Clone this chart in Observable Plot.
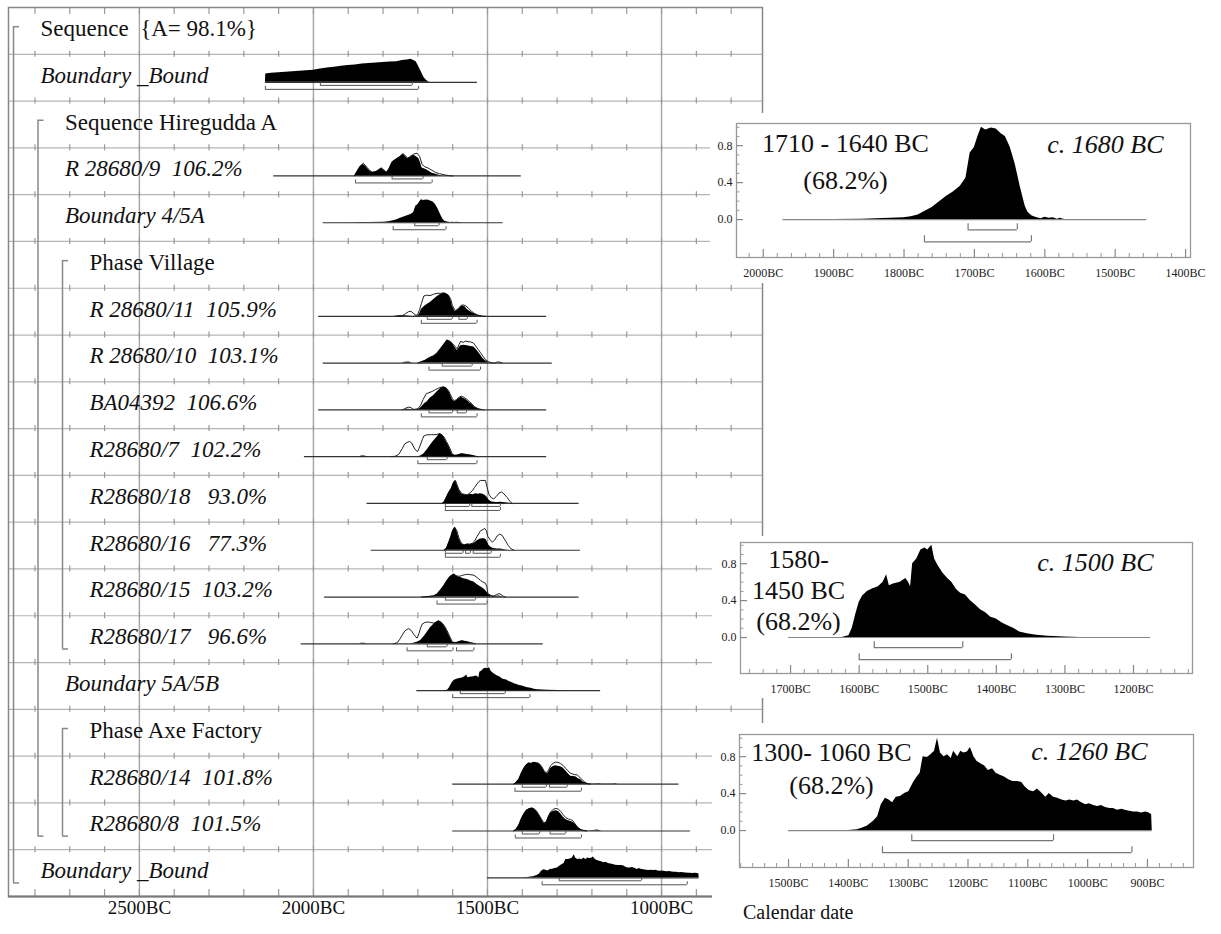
<!DOCTYPE html>
<html><head><meta charset="utf-8">
<script src="https://cdn.jsdelivr.net/npm/d3@7"></script>
<script src="https://cdn.jsdelivr.net/npm/@observablehq/plot@0.6"></script>
<style>
body{margin:0;background:#fff;}
#wrap{position:relative;width:1221px;height:934px;overflow:hidden;background:#fff;font-family:"Liberation Serif","Times New Roman",serif;}
.panel{position:absolute;background:#fff;}
svg text{white-space:pre;}
#caption{position:absolute;left:743px;top:899px;font-size:20px;line-height:26px;color:#111;}
</style></head><body><div id="wrap"></div>
<script>
// ---------- row structure ----------
const rowLabels = ["Sequence  {A= 98.1%}", "Boundary _Bound", "Sequence Hiregudda A", "R 28680/9  106.2%", "Boundary 4/5A", "Phase Village",
  "R 28680/11  105.9%", "R 28680/10  103.1%", "BA04392  106.6%", "R28680/7  102.2%", "R28680/18   93.0%", "R28680/16   77.3%",
  "R28680/15  103.2%", "R28680/17   96.6%", "Boundary 5A/5B", "Phase Axe Factory", "R28680/14  101.8%", "R28680/8  101.5%", "Boundary _Bound"];
const rowLevels = [0,0,1,1,1,2,2,2,2,2,2,2,2,2,1,2,2,2,0];
const rowItalic = [0,1,0,1,1,0,1,1,1,1,1,1,1,1,1,0,1,1,1];
const groupStart = [0, 2, 5, 15];
const groupEnd   = [18, 17, 13, 17];
const groupLevel = [0, 1, 2, 2];
const axisYears = [2500, 2000, 1500, 1000];

// ---------- distributions (year BC, relative probability) ----------
const bTop = [[2138,0],[2137,0.36],[2120,0.4],[2100,0.42],[2080,0.44],[2060,0.46],[2040,0.48],[2020,0.5],[2000,0.53],[1980,0.58],[1960,0.62],[1940,0.66],[1920,0.7],[1900,0.73],[1880,0.76],[1860,0.8],[1840,0.82],[1820,0.84],[1800,0.86],[1780,0.88],[1760,0.9],[1745,0.95],[1730,0.97],[1720,1.0],[1712,0.95],[1705,0.9],[1698,0.7],[1690,0.45],[1682,0.2],[1675,0.08],[1668,0.02],[1664,0]];
const bTopLine = [2138, 1529], bTop68 = [[1980,1716]], bTop95 = [[2138,1698]];

const r9Post = [[1882,0],[1874,0.2],[1866,0.4],[1857,0.5],[1850,0.42],[1846,0.35],[1838,0.22],[1831,0.15],[1824,0.17],[1817,0.2],[1810,0.28],[1805,0.33],[1798,0.25],[1790,0.15],[1783,0.3],[1774,0.6],[1767,0.68],[1760,0.75],[1752,0.82],[1742,0.95],[1736,0.85],[1729,0.75],[1722,0.8],[1712,0.9],[1705,0.85],[1697,0.75],[1692,0.55],[1688,0.35],[1680,0.3],[1673,0.25],[1666,0.18],[1659,0.12],[1651,0.08],[1644,0.05],[1636,0.02],[1630,0]];
const r9Prior = [[1882,0],[1874,0.22],[1866,0.42],[1857,0.55],[1850,0.45],[1846,0.37],[1838,0.24],[1831,0.16],[1824,0.18],[1817,0.22],[1810,0.3],[1805,0.35],[1798,0.27],[1790,0.16],[1783,0.3],[1774,0.6],[1767,0.68],[1760,0.77],[1752,0.84],[1742,0.97],[1736,0.87],[1729,0.78],[1722,0.85],[1712,0.95],[1702,0.99],[1695,0.85],[1688,0.5],[1680,0.4],[1669,0.33],[1660,0.25],[1649,0.15],[1638,0.1],[1625,0.05],[1610,0.01],[1600,0]];
const r9Line = [2114, 1403], r9_68 = [[1774,1685]], r9_95 = [[1879,1659]];

const b45 = [[1972,0],[1900,0],[1860,0.005],[1840,0.01],[1800,0.02],[1790,0.03],[1780,0.05],[1770,0.09],[1760,0.13],[1750,0.19],[1740,0.25],[1730,0.3],[1720,0.36],[1712,0.45],[1706,0.72],[1700,0.78],[1695,0.9],[1690,1.0],[1684,0.97],[1676,0.99],[1669,0.98],[1662,0.93],[1656,0.9],[1649,0.78],[1642,0.6],[1635,0.36],[1628,0.15],[1624,0.08],[1618,0.04],[1611,0.02],[1605,0.01],[1600,0.025],[1594,0.015],[1588,0.02],[1582,0.005],[1578,0.015],[1572,0],[1455,0]];
const b45Line = [1972, 1455], b45_68 = [[1709,1639]], b45_95 = [[1771,1619]];

const r11Post = [[1770,0],[1760,0.02],[1745,0.03],[1730,0.02],[1715,0],[1700,0.02],[1695,0.1],[1690,0.3],[1680,0.45],[1670,0.55],[1664,0.6],[1655,0.72],[1645,0.85],[1635,0.95],[1625,1.0],[1618,0.97],[1611,0.9],[1605,0.7],[1601,0.45],[1596,0.3],[1592,0.2],[1587,0.25],[1582,0.32],[1576,0.42],[1570,0.45],[1564,0.4],[1558,0.3],[1551,0.22],[1544,0.15],[1537,0.1],[1530,0.05],[1520,0.01],[1510,0]];
const r11Prior = [[1760,0],[1745,0.02],[1735,0.12],[1727,0.2],[1720,0.22],[1712,0.12],[1705,0.04],[1700,0.1],[1695,0.3],[1690,0.55],[1683,0.88],[1675,0.92],[1665,0.9],[1655,0.96],[1645,1.0],[1635,1.0],[1625,1.02],[1618,0.98],[1611,0.9],[1605,0.72],[1601,0.47],[1596,0.33],[1592,0.25],[1587,0.3],[1582,0.38],[1576,0.47],[1570,0.5],[1562,0.45],[1555,0.35],[1546,0.22],[1537,0.12],[1528,0.06],[1515,0.01],[1505,0]];
const r11Line = [1985, 1330], r11_68 = [[1673,1601],[1582,1558]], r11_95 = [[1690,1530]];

const r10Post = [[1745,0],[1738,0.04],[1725,0.05],[1716,0],[1700,0],[1692,0.04],[1680,0.1],[1668,0.2],[1656,0.28],[1645,0.4],[1635,0.6],[1625,0.8],[1616,1.0],[1608,0.95],[1601,0.85],[1594,0.7],[1587,0.55],[1582,0.65],[1577,0.75],[1568,0.78],[1558,0.75],[1548,0.72],[1539,0.7],[1530,0.55],[1520,0.35],[1513,0.2],[1506,0.1],[1496,0.02],[1490,0]];
const r10Prior = [[1700,0],[1692,0.05],[1680,0.12],[1668,0.24],[1656,0.32],[1645,0.45],[1635,0.64],[1625,0.84],[1616,1.0],[1608,0.95],[1601,0.86],[1594,0.74],[1587,0.62],[1582,0.8],[1577,0.95],[1570,0.9],[1563,0.96],[1556,0.93],[1548,0.92],[1541,0.88],[1534,0.75],[1527,0.6],[1520,0.45],[1513,0.3],[1506,0.15],[1496,0.05],[1485,0.01],[1478,0],[1474,0.04],[1466,0.05],[1458,0]];
const r10Line = [1972, 1314], r10_68 = [[1630,1544]], r10_95 = [[1668,1520]];

const baPost = [[1740,0],[1730,0.03],[1720,0.02],[1705,0],[1695,0.05],[1688,0.15],[1680,0.28],[1673,0.35],[1664,0.52],[1655,0.62],[1645,0.78],[1635,0.92],[1626,1.0],[1618,0.95],[1611,0.8],[1605,0.6],[1601,0.45],[1595,0.37],[1589,0.4],[1582,0.5],[1575,0.55],[1568,0.5],[1560,0.43],[1552,0.32],[1544,0.22],[1537,0.12],[1530,0.06],[1520,0.01],[1515,0]];
const baPrior = [[1745,0],[1738,0.05],[1728,0.12],[1720,0.1],[1712,0.02],[1700,0.05],[1692,0.2],[1685,0.45],[1676,0.7],[1668,0.75],[1659,0.8],[1650,0.88],[1640,0.95],[1630,1.0],[1620,0.97],[1611,0.82],[1605,0.62],[1601,0.48],[1595,0.4],[1589,0.45],[1582,0.55],[1575,0.6],[1568,0.55],[1560,0.47],[1552,0.36],[1544,0.25],[1537,0.14],[1528,0.06],[1515,0.01],[1510,0]];
const baLine = [1985, 1330], ba_68 = [[1668,1600],[1587,1560]], ba_95 = [[1690,1530]];

const r7Post = [[1868,0],[1862,0.03],[1852,0.03],[1846,0],[1700,0],[1692,0.03],[1683,0.12],[1673,0.3],[1666,0.45],[1659,0.6],[1652,0.72],[1645,0.85],[1637,1.0],[1631,0.95],[1625,0.85],[1618,0.65],[1611,0.45],[1605,0.25],[1601,0.1],[1594,0.05],[1587,0.06],[1580,0.1],[1573,0.12],[1565,0.1],[1558,0.08],[1545,0.05],[1535,0.02],[1528,0]];
const r7Prior = [[1775,0],[1765,0.02],[1755,0.1],[1745,0.35],[1738,0.55],[1731,0.62],[1724,0.66],[1718,0.6],[1712,0.42],[1706,0.28],[1701,0.22],[1697,0.35],[1692,0.55],[1687,0.75],[1683,0.9],[1675,0.95],[1668,0.95],[1660,0.96],[1654,0.95],[1645,0.97],[1637,1.0],[1631,0.95],[1625,0.86],[1618,0.66],[1611,0.46],[1605,0.26],[1601,0.11],[1594,0.06],[1587,0.07],[1580,0.11],[1573,0.13],[1565,0.11],[1558,0.09],[1545,0.06],[1535,0.02],[1528,0]];
const r7Line = [2026, 1330], r7_68 = [[1673,1616]], r7_95 = [[1700,1530]];

const r18Post = [[1630,0],[1625,0.05],[1620,0.2],[1612,0.45],[1604,0.65],[1597,0.92],[1592,1.0],[1587,0.8],[1582,0.6],[1577,0.48],[1573,0.4],[1566,0.37],[1558,0.35],[1553,0.38],[1549,0.4],[1541,0.38],[1534,0.42],[1527,0.4],[1520,0.42],[1513,0.4],[1506,0.35],[1500,0.25],[1496,0.15],[1489,0.08],[1482,0.05],[1472,0.04],[1463,0.05],[1450,0.03],[1440,0.01],[1434,0]];
const r18Prior = [[1630,0],[1625,0.05],[1620,0.2],[1612,0.45],[1604,0.65],[1597,0.92],[1592,1.0],[1587,0.8],[1582,0.6],[1577,0.5],[1573,0.42],[1566,0.4],[1558,0.38],[1551,0.45],[1544,0.55],[1537,0.7],[1530,0.85],[1525,0.95],[1520,1.0],[1513,1.0],[1506,1.0],[1501,0.7],[1496,0.4],[1489,0.25],[1482,0.2],[1475,0.3],[1467,0.45],[1460,0.5],[1453,0.42],[1443,0.25],[1435,0.08],[1429,0]];
const r18Line = [1846, 1237], r18_68 = [[1621,1551],[1545,1463]], r18_95 = [[1621,1463]];

const r16Post = [[1625,0],[1618,0.08],[1611,0.35],[1606,0.55],[1600,0.85],[1594,1.0],[1588,0.85],[1582,0.52],[1577,0.35],[1573,0.25],[1565,0.22],[1558,0.26],[1551,0.24],[1544,0.26],[1537,0.32],[1530,0.4],[1522,0.48],[1515,0.5],[1508,0.5],[1503,0.45],[1496,0.22],[1489,0.12],[1482,0.08],[1472,0.05],[1463,0.05],[1450,0.02],[1440,0]];
const r16Prior = [[1625,0],[1618,0.08],[1611,0.35],[1606,0.55],[1600,0.85],[1594,1.0],[1588,0.85],[1582,0.53],[1577,0.37],[1573,0.27],[1565,0.24],[1558,0.28],[1551,0.27],[1544,0.3],[1537,0.4],[1530,0.6],[1524,0.75],[1520,0.85],[1513,0.9],[1508,0.95],[1503,0.85],[1499,0.6],[1492,0.45],[1486,0.35],[1479,0.45],[1472,0.63],[1465,0.7],[1458,0.65],[1450,0.45],[1440,0.2],[1432,0.06],[1424,0]];
const r16Line = [1834, 1233], r16_68 = [[1621,1570],[1563,1549],[1541,1489]], r16_95 = [[1621,1463]];

const r15Post = [[1690,0],[1670,0.02],[1654,0.05],[1645,0.12],[1635,0.3],[1625,0.5],[1616,0.72],[1608,0.88],[1601,0.96],[1597,1.0],[1590,0.92],[1582,0.86],[1577,0.85],[1568,0.8],[1558,0.76],[1548,0.7],[1539,0.65],[1530,0.55],[1520,0.45],[1513,0.38],[1506,0.3],[1500,0.18],[1496,0.1],[1489,0.05],[1482,0.03],[1475,0.04],[1467,0.05],[1460,0.02],[1453,0]];
const r15Prior = [[1690,0],[1670,0.02],[1654,0.05],[1645,0.12],[1635,0.3],[1625,0.5],[1616,0.72],[1608,0.88],[1601,0.96],[1597,1.0],[1590,0.93],[1582,0.9],[1575,0.93],[1566,0.97],[1558,0.99],[1548,0.97],[1539,0.95],[1530,0.85],[1520,0.72],[1513,0.65],[1506,0.6],[1502,0.45],[1499,0.15],[1489,0.06],[1482,0.04],[1475,0.1],[1467,0.15],[1460,0.1],[1453,0.02],[1448,0]];
const r15Line = [1968, 1237], r15_68 = [[1621,1534]], r15_95 = [[1645,1501]];

const r17Post = [[1868,0],[1862,0.03],[1852,0.03],[1846,0],[1720,0],[1712,0.03],[1700,0.08],[1692,0.15],[1683,0.3],[1673,0.5],[1664,0.7],[1654,0.85],[1645,0.95],[1640,1.0],[1632,0.92],[1625,0.8],[1618,0.62],[1611,0.4],[1605,0.2],[1601,0.07],[1594,0.05],[1587,0.06],[1580,0.1],[1573,0.12],[1565,0.1],[1558,0.08],[1548,0.04],[1538,0.01],[1535,0]];
const r17Prior = [[1770,0],[1759,0.05],[1752,0.2],[1745,0.38],[1738,0.55],[1731,0.63],[1726,0.66],[1719,0.58],[1712,0.42],[1706,0.3],[1702,0.25],[1697,0.45],[1692,0.7],[1688,0.85],[1680,0.93],[1673,0.95],[1664,0.93],[1654,0.9],[1645,0.96],[1640,1.0],[1632,0.93],[1625,0.81],[1618,0.63],[1611,0.41],[1605,0.21],[1601,0.08],[1594,0.06],[1587,0.07],[1580,0.11],[1573,0.13],[1565,0.11],[1558,0.09],[1548,0.05],[1538,0.01],[1535,0]];
const r17Line = [2035, 1340], r17_68 = [[1673,1616]], r17_95 = [[1731,1599],[1589,1539]];

const b5a5b = [[1703,0],[1625,0],[1615,0.02],[1610,0.1],[1605,0.25],[1600,0.38],[1595,0.45],[1588,0.5],[1580,0.53],[1572,0.55],[1565,0.6],[1560,0.68],[1556,0.56],[1550,0.58],[1540,0.6],[1532,0.64],[1528,0.6],[1525,0.55],[1522,0.8],[1516,0.85],[1510,0.95],[1504,0.97],[1500,0.95],[1494,1.0],[1490,0.85],[1485,0.78],[1478,0.7],[1471,0.64],[1465,0.6],[1458,0.52],[1452,0.48],[1445,0.46],[1438,0.4],[1430,0.35],[1423,0.3],[1416,0.27],[1408,0.22],[1400,0.2],[1392,0.16],[1384,0.13],[1375,0.1],[1366,0.06],[1355,0.04],[1341,0.025],[1325,0.015],[1300,0.005],[1278,0],[1175,0]];
const b5Line = [1703, 1175], b5_68 = [[1578,1449]], b5_95 = [[1600,1378]];

const r14Post = [[1425,0],[1419,0.05],[1410,0.22],[1402,0.5],[1395,0.7],[1388,0.85],[1381,0.92],[1374,0.9],[1367,0.95],[1360,0.93],[1352,0.9],[1345,0.78],[1338,0.6],[1332,0.48],[1328,0.45],[1323,0.55],[1319,0.68],[1312,0.76],[1305,0.8],[1298,0.78],[1290,0.76],[1283,0.7],[1276,0.6],[1268,0.45],[1261,0.35],[1254,0.33],[1247,0.32],[1240,0.25],[1233,0.2],[1225,0.1],[1218,0.05],[1210,0.02],[1195,0.01],[1180,0.02],[1170,0.01],[1140,0.01],[1132,0.02],[1125,0]];
const r14Prior = [[1425,0],[1419,0.05],[1410,0.22],[1402,0.5],[1395,0.7],[1388,0.85],[1381,0.92],[1374,0.9],[1367,0.95],[1360,0.93],[1352,0.9],[1345,0.78],[1338,0.6],[1332,0.5],[1325,0.6],[1319,0.8],[1312,0.9],[1305,0.96],[1298,0.95],[1290,0.9],[1283,0.82],[1276,0.7],[1271,0.62],[1264,0.5],[1257,0.45],[1250,0.42],[1242,0.4],[1235,0.3],[1228,0.2],[1220,0.08],[1212,0.02],[1205,0]];
const r14Line = [1600, 950], r14_68 = [[1400,1331],[1322,1271]], r14_95 = [[1421,1230]];

const r8Post = [[1425,0],[1418,0.06],[1410,0.25],[1402,0.55],[1395,0.75],[1388,0.9],[1380,0.97],[1372,1.0],[1365,0.95],[1358,0.85],[1352,0.7],[1345,0.52],[1340,0.38],[1335,0.32],[1330,0.4],[1325,0.6],[1318,0.78],[1310,0.86],[1303,0.88],[1296,0.85],[1290,0.75],[1282,0.6],[1275,0.5],[1268,0.45],[1262,0.42],[1255,0.38],[1248,0.3],[1240,0.15],[1232,0.06],[1225,0.03],[1210,0.01],[1195,0.02],[1185,0.04],[1178,0.02],[1170,0]];
const r8Prior = [[1425,0],[1418,0.06],[1410,0.25],[1402,0.55],[1395,0.75],[1388,0.9],[1380,0.97],[1372,1.0],[1365,0.95],[1358,0.85],[1352,0.7],[1345,0.52],[1340,0.4],[1335,0.36],[1330,0.45],[1325,0.65],[1318,0.85],[1310,0.95],[1303,0.98],[1296,0.95],[1290,0.85],[1282,0.7],[1275,0.58],[1268,0.52],[1262,0.5],[1255,0.45],[1248,0.3],[1240,0.15],[1232,0.06],[1225,0.02],[1215,0]];
const r8Line = [1600, 917], r8_68 = [[1400,1350],[1320,1275]], r8_95 = [[1420,1230]];

const bBot = [[1500,0],[1400,0],[1385,0.01],[1375,0.03],[1368,0.05],[1358,0.1],[1351,0.15],[1345,0.28],[1338,0.35],[1332,0.33],[1326,0.3],[1320,0.36],[1313,0.37],[1306,0.4],[1299,0.42],[1291,0.52],[1285,0.58],[1280,0.62],[1275,0.8],[1268,0.79],[1262,0.82],[1256,0.86],[1251,1.0],[1246,0.84],[1240,0.8],[1234,0.82],[1228,0.78],[1224,0.86],[1217,0.8],[1212,0.86],[1207,0.84],[1201,0.85],[1196,0.9],[1190,0.8],[1185,0.75],[1178,0.72],[1172,0.7],[1166,0.65],[1159,0.67],[1153,0.62],[1146,0.6],[1139,0.58],[1132,0.55],[1125,0.53],[1117,0.53],[1110,0.52],[1104,0.47],[1097,0.43],[1090,0.42],[1084,0.45],[1077,0.41],[1070,0.36],[1064,0.4],[1057,0.36],[1050,0.35],[1043,0.33],[1036,0.32],[1030,0.33],[1023,0.32],[1017,0.33],[1010,0.3],[1003,0.28],[997,0.29],[990,0.27],[983,0.26],[977,0.27],[970,0.25],[963,0.24],[957,0.24],[950,0.22],[943,0.23],[937,0.22],[930,0.21],[923,0.2],[916,0.2],[910,0.19],[903,0.2],[897,0.19],[893,0.17],[892,0]];
const bBotLine = [1500, 892], bBot_68 = [[1294,1057]], bBot_95 = [[1343,926]];

// ---------- build ----------
const FONT = "'Liberation Serif','Times New Roman',serif";
const series = [
  {row:1, post:bTop, line:bTopLine, r68:bTop68, r95:bTop95},
  {row:3, post:r9Post, prior:r9Prior, line:r9Line, r68:r9_68, r95:r9_95},
  {row:4, post:b45, line:b45Line, r68:b45_68, r95:b45_95},
  {row:6, post:r11Post, prior:r11Prior, line:r11Line, r68:r11_68, r95:r11_95},
  {row:7, post:r10Post, prior:r10Prior, line:r10Line, r68:r10_68, r95:r10_95},
  {row:8, post:baPost, prior:baPrior, line:baLine, r68:ba_68, r95:ba_95},
  {row:9, post:r7Post, prior:r7Prior, line:r7Line, r68:r7_68, r95:r7_95},
  {row:10, post:r18Post, prior:r18Prior, line:r18Line, r68:r18_68, r95:r18_95},
  {row:11, post:r16Post, prior:r16Prior, line:r16Line, r68:r16_68, r95:r16_95},
  {row:12, post:r15Post, prior:r15Prior, line:r15Line, r68:r15_68, r95:r15_95},
  {row:13, post:r17Post, prior:r17Prior, line:r17Line, r68:r17_68, r95:r17_95},
  {row:14, post:b5a5b, line:b5Line, r68:b5_68, r95:b5_95},
  {row:16, post:r14Post, prior:r14Prior, line:r14Line, r68:r14_68, r95:r14_95},
  {row:17, post:r8Post, prior:r8Prior, line:r8Line, r68:r8_68, r95:r8_95},
  {row:18, post:bBot, line:bBotLine, r68:bBot_68, r95:bBot_95}
];

const W = 770, H = 934, MT = 7, MB = 38, ML = 8, MR = 8;
const XD = [2876, 710];
const NR = rowLabels.length;
const RH = (H - MT - MB) / NR;
const u = 1 / RH;            // row units per pixel
const HM = 23 * u;           // peak height
const BASE = 0.6;
const xs = Plot.scale({x: {domain: XD, range: [ML, W - MR]}});

const postData = [], priorData = [], lineData = [], rangeData = [];
series.forEach(s => {
  const b = s.row + BASE;
  s.post.forEach(([x, h]) => postData.push({k: s.row, x, y1: b, y2: b - h * HM}));
  if (s.prior) s.prior.forEach(([x, h]) => priorData.push({k: s.row, x, y: b - h * HM}));
  lineData.push({y: b, a: s.line[0], b: s.line[1]});
  [[s.r68, 3, 2.5], [s.r95, 7, 3]].forEach(([rs, off, tk]) =>
    rs.forEach(([a, c]) => rangeData.push({a, b: c, y: b + off * u, t: b + (off - tk) * u})));
});
const rangeEnds = rangeData.flatMap(d => [{x: d.a, y1: d.t, y2: d.y}, {x: d.b, y1: d.t, y2: d.y}]);

const centuries = d3.range(2800, 799, -100);
const tickData = d3.range(0, NR + 1).flatMap(r => centuries.map(c => ({x: c, r})));

const rowData = rowLabels.map((label, i) => ({label, i, level: rowLevels[i], italic: rowItalic[i]}));
const groups = groupStart.map((s, j) => ({from: s, to: groupEnd[j], level: groupLevel[j]}));
const bx = L => 13 + 24.5 * L;
const lx = L => 40 + 24.5 * L;

const labelMarks = [0, 1].map(it => Plot.text(rowData.filter(d => d.italic === it), {
  x: d => xs.invert(lx(d.level)), y: d => d.i + 0.45, text: "label",
  textAnchor: "start", fontSize: 23, fontStyle: it ? "italic" : "normal", fill: "#111"
}));

const main = Plot.plot({
  width: W, height: H, marginLeft: ML, marginRight: MR, marginTop: MT, marginBottom: MB,
  x: {domain: XD, axis: null},
  y: {domain: [0, NR], reverse: true, axis: null},
  style: {fontFamily: FONT, background: "transparent", overflow: "visible"},
  marks: [
    Plot.ruleY(d3.range(1, NR), {stroke: "#b5b5b5", strokeWidth: 1.2}),
    Plot.ruleX(axisYears, {stroke: "#a5a5a5", strokeWidth: 1.4}),
    Plot.ruleX(tickData, {x: "x",
      y1: d => d.r === 0 ? 0 : (d.r === NR ? NR - 7 * u : d.r - 3 * u),
      y2: d => d.r === 0 ? 7 * u : (d.r === NR ? NR : d.r + 3 * u),
      stroke: "#999", strokeWidth: 1.2}),
    Plot.frame({stroke: "#888", strokeWidth: 1.5}),
    Plot.ruleY([NR], {stroke: "#777", strokeWidth: 2}),
    Plot.text(axisYears, {x: d => d, frameAnchor: "bottom", dy: 17, text: d => d + "BC", fontSize: 19, fill: "#111"}),
    // structure brackets
    Plot.ruleX(groups, {x: d => xs.invert(bx(d.level)), y1: d => d.from + 0.41, y2: d => d.to + 0.71, stroke: "#888", strokeWidth: 1.5}),
    Plot.ruleY(groups, {y: d => d.from + 0.41, x1: d => xs.invert(bx(d.level)), x2: d => xs.invert(bx(d.level) + 6), stroke: "#888", strokeWidth: 1.5}),
    Plot.ruleY(groups, {y: d => d.to + 0.71, x1: d => xs.invert(bx(d.level)), x2: d => xs.invert(bx(d.level) + 6), stroke: "#888", strokeWidth: 1.5}),
    ...labelMarks,
    // distributions
    Plot.ruleY(lineData, {y: "y", x1: "a", x2: "b", stroke: "#333", strokeWidth: 1.2}),
    Plot.line(priorData, {x: "x", y: "y", z: "k", stroke: "#222", strokeWidth: 1}),
    Plot.areaY(postData, {x: "x", y1: "y1", y2: "y2", z: "k", fill: "#000"}),
    Plot.ruleY(rangeData, {y: "y", x1: "a", x2: "b", stroke: "#555", strokeWidth: 1}),
    Plot.ruleX(rangeEnds, {x: "x", y1: "y1", y2: "y2", stroke: "#555", strokeWidth: 1})
  ]
});

const wrap = document.getElementById("wrap");
const mdiv = document.createElement("div");
mdiv.className = "panel"; mdiv.style.left = "0px"; mdiv.style.top = "0px";
mdiv.style.background = "transparent";
mdiv.appendChild(main);
wrap.appendChild(mdiv);

// ---------- insets ----------
const insetTexts = [
  {block: "1710 - 1640 BC\n(68.2%)", bx: 109, by: 2, lh: 1.42, c: "c. 1680 BC", cx: -27, cy: 11},
  {block: "1580-\n1450 BC\n(68.2%)", bx: 58, by: 4, lh: 1.19, c: "c. 1500 BC", cx: -39, cy: 10},
  {block: "1300- 1060 BC\n(68.2%)", bx: 92, by: 3, lh: 1.27, c: "c. 1260 BC", cx: -46, cy: 7}
];
const insetCfg = [
  {left: 710, top: 113, w: 511, h: 170, ml: 26, mr: 31, mt: 10, mb: 26, xd: [2038, 1393], yd: [-0.41, 1.04], post: b45, line: b45Line, r68: b45_68, r95: b45_95},
  {left: 712, top: 536, w: 509, h: 162, ml: 28, mr: 29, mt: 6, mb: 25, xd: [1773, 1114], yd: [-0.39, 1.03], post: b5a5b, line: b5Line, r68: b5_68, r95: b5_95},
  {left: 712, top: 723, w: 509, h: 211, ml: 27, mr: 28, mt: 11, mb: 67, xd: [1582, 823], yd: [-0.4, 1.04], post: bBot, line: bBotLine, r68: bBot_68, r95: bBot_95}
];

insetCfg.forEach((c, idx) => {
  const t = insetTexts[idx];
  const ph = c.h - c.mt - c.mb;
  const uy = (c.yd[1] - c.yd[0]) / ph;
  const ux = (c.xd[0] - c.xd[1]) / (c.w - c.ml - c.mr);
  const lo = Math.min(...c.xd), hi = Math.max(...c.xd);
  const majors = d3.range(Math.ceil(lo / 100) * 100, hi + 1, 100);
  const minors = d3.range(Math.ceil(lo / 20) * 20, hi + 1, 20).filter(v => v % 100 !== 0);
  const yMaj = [0, 0.4, 0.8];
  const yMin = d3.range(1, 11).map(v => v / 10).filter(v => !yMaj.some(m => Math.abs(m - v) < 1e-9));
  const pts = c.post.map(([x, y]) => ({x, y}));
  const rr = [];
  [[c.r68, -0.11], [c.r95, -0.24]].forEach(([rs, y]) => rs.forEach(([a, b]) => rr.push({a, b, y})));
  const rrEnds = rr.flatMap(d => [{x: d.a, y: d.y}, {x: d.b, y: d.y}]);
  const y0 = c.yd[0];
  const x0 = c.xd[0];
  const p = Plot.plot({
    width: c.w, height: c.h, marginLeft: c.ml, marginRight: c.mr, marginTop: c.mt, marginBottom: c.mb,
    x: {domain: c.xd, axis: null},
    y: {domain: c.yd, axis: null},
    style: {fontFamily: FONT, background: "#fff", overflow: "visible"},
    marks: [
      Plot.frame({stroke: "#999", strokeWidth: 1.3}),
      Plot.ruleX(majors, {x: d => d, y1: y0, y2: y0 + 8 * uy, stroke: "#888", strokeWidth: 1.2}),
      Plot.ruleX(minors, {x: d => d, y1: y0, y2: y0 + 4 * uy, stroke: "#999", strokeWidth: 1}),
      Plot.ruleY(yMaj, {y: d => d, x1: x0, x2: x0 - 7 * ux, stroke: "#888", strokeWidth: 1.2}),
      Plot.ruleY(yMin, {y: d => d, x1: x0, x2: x0 - 3.5 * ux, stroke: "#999", strokeWidth: 1}),
      Plot.text(majors, {x: d => d, frameAnchor: "bottom", dy: 19, text: d => d + "BC", fontSize: 12, fill: "#222"}),
      Plot.text(yMaj, {y: d => d, frameAnchor: "left", dx: -4, textAnchor: "end", text: d => d.toFixed(1), fontSize: 12, fill: "#222"}),
      Plot.ruleY([0], {x1: c.line[0], x2: c.line[1], stroke: "#888", strokeWidth: 1.2}),
      Plot.areaY(pts, {x: "x", y: "y", fill: "#000"}),
      Plot.ruleY(rr, {y: "y", x1: "a", x2: "b", stroke: "#777", strokeWidth: 1.2}),
      Plot.ruleX(rrEnds, {x: "x", y1: "y", y2: d => d.y + 6 * uy, stroke: "#777", strokeWidth: 1.2}),
      Plot.text([t.block], {frameAnchor: "top-left", dx: t.bx, dy: t.by, text: d => d, textAnchor: "middle", lineAnchor: "top", lineHeight: t.lh, fontSize: 26, fill: "#111"}),
      Plot.text([t.c], {frameAnchor: "top-right", dx: t.cx, dy: t.cy, text: d => d, textAnchor: "end", lineAnchor: "top", fontSize: 26, fontStyle: "italic", fill: "#111"})
    ]
  });
  const d = document.createElement("div");
  d.className = "panel";
  d.style.left = c.left + "px"; d.style.top = c.top + "px";
  d.style.width = c.w + "px"; d.style.height = c.h + "px";
  d.appendChild(p);
  wrap.appendChild(d);
});

const cap = document.createElement("div");
cap.id = "caption"; cap.textContent = "Calendar date";
wrap.appendChild(cap);
</script></body></html>
